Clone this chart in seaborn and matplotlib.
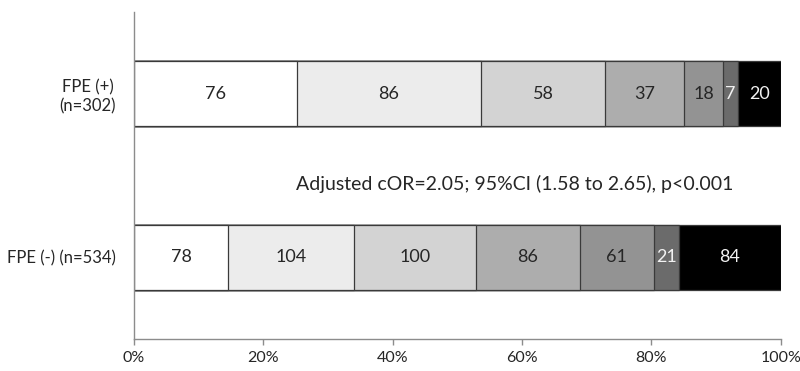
import numpy as np
import pandas as pd
import matplotlib
matplotlib.use("Agg")
import matplotlib.pyplot as plt
import seaborn as sns

# Patient counts per outcome category, for each FPE group
groups = ["FPE (+)\n(n=302)", "FPE (-) (n=534)"]
fpe_pos = [76, 86, 58, 37, 18, 7, 20]
fpe_neg = [78, 104, 100, 86, 61, 21, 84]
segment_colors = ["#ffffff", "#ececec", "#d3d3d3", "#adadad", "#939393", "#6b6b6b", "#000000"]
label_colors = ["#262626", "#262626", "#262626", "#262626", "#262626", "#f2f2f2", "#f2f2f2"]
x_ticks = [0, 20, 40, 60, 80, 100]
x_tick_labels = ["0%", "20%", "40%", "60%", "80%", "100%"]
annotation = "Adjusted cOR=2.05; 95%CI (1.58 to 2.65), p<0.001"

sns.set_theme(style="white")
plt.rcParams["font.family"] = ["Lato", "DejaVu Sans"]

counts = np.array([fpe_pos, fpe_neg], dtype=float)
pct = counts / counts.sum(axis=1, keepdims=True) * 100
cum = np.cumsum(pct, axis=1)

fig = plt.figure(figsize=(8.0, 3.71), dpi=100)
ax = fig.add_axes([0.1675, 0.0863, 0.8085, 0.8814])

# Stack by drawing cumulative bars from the longest to the shortest
n_seg = counts.shape[1]
for k in range(n_seg - 1, -1, -1):
    df = pd.DataFrame({"group": groups, "cum": cum[:, k]})
    sns.barplot(data=df, x="cum", y="group", order=groups, orient="h",
                color=segment_colors[k], saturation=1, width=0.4,
                edgecolor="#3a3a3a", linewidth=0.9, ax=ax)

# Segment count labels
for i in range(len(groups)):
    for k in range(n_seg):
        xc = cum[i, k] - pct[i, k] / 2
        ax.text(xc, i, f"{int(counts[i, k])}", ha="center", va="center",
                fontsize=13, color=label_colors[k])

ax.text(58.9, 0.55, annotation, ha="center", va="center", fontsize=14, color="#262626")

ax.set_xlim(0, 100)
ax.set_ylim(1.5, -0.5)
ax.set_xticks(x_ticks)
ax.set_xticklabels(x_tick_labels, fontsize=11.5, color="#262626")
ax.set_yticklabels(groups, fontsize=12, color="#262626", ha="right", multialignment="center")
ax.set_xlabel("")
ax.set_ylabel("")

for s in ["top", "right"]:
    ax.spines[s].set_visible(False)
for s in ["left", "bottom"]:
    ax.spines[s].set_color("#8c8c8c")
    ax.spines[s].set_linewidth(1.0)

ax.tick_params(axis="x", which="major", bottom=True, length=4, width=1.0,
               color="#8c8c8c", pad=5)
ax.tick_params(axis="y", left=False, pad=7)

fig.savefig("out.png", dpi=100)
